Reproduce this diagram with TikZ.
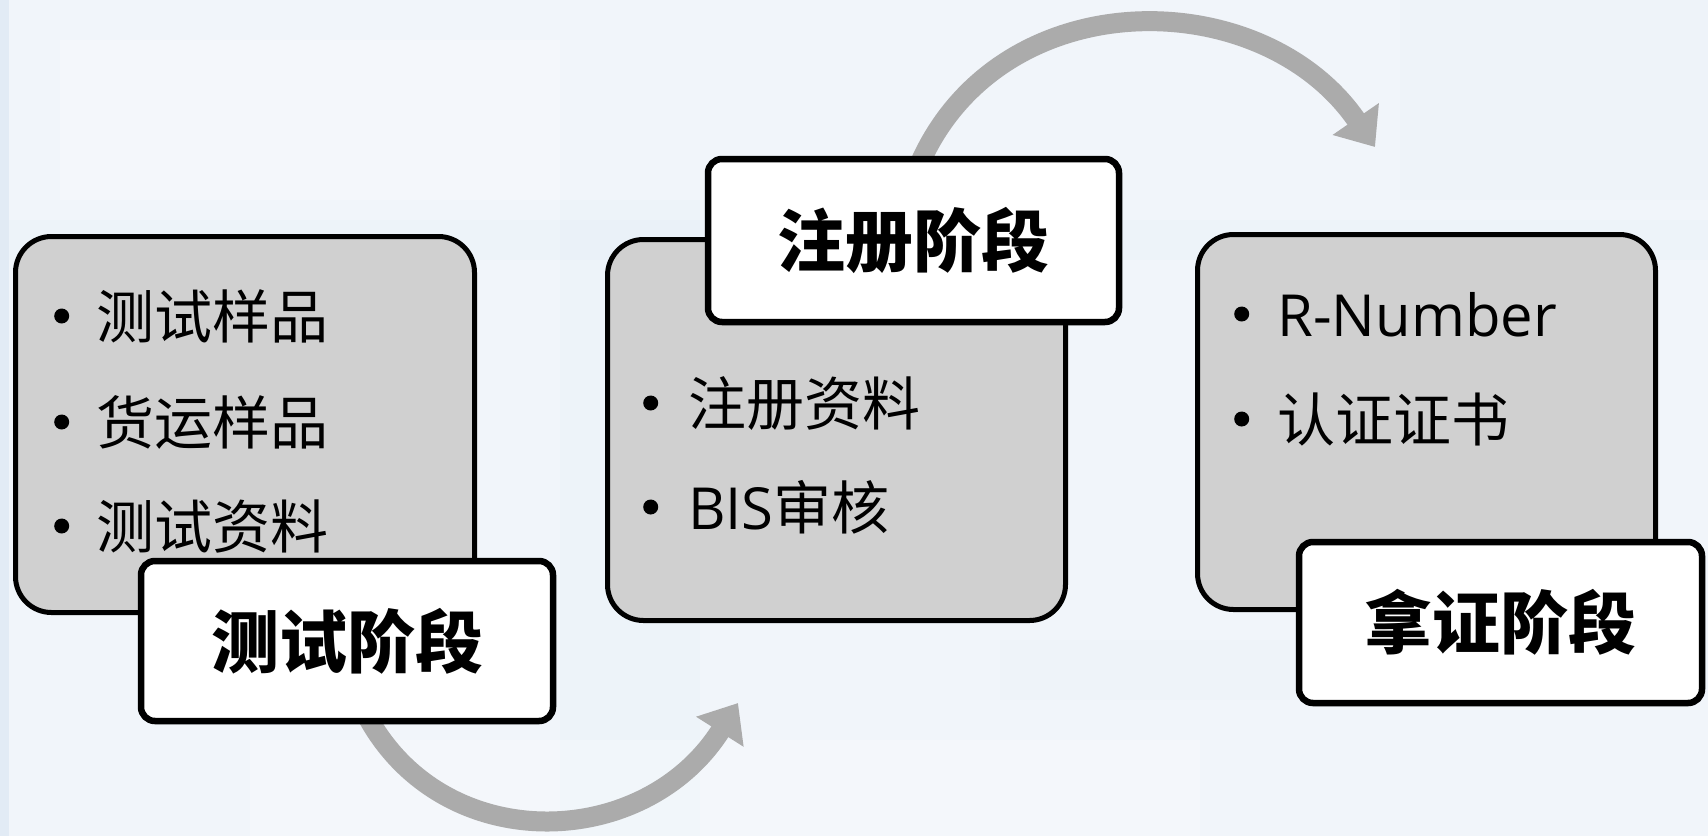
\documentclass[tikz,border=0pt]{standalone}
\usepackage{fontspec}
\setmainfont{Open Sans}
\newfontfamily\cjk{Noto Sans CJK SC}
\newfontfamily\cjkb{Noto Sans CJK SC Black}
\usetikzlibrary{arrows.meta,shadows}
\pgfdeclarelayer{back}
\pgfdeclarelayer{arr}
\pgfsetlayers{back,arr,main}
\definecolor{bgc}{HTML}{F1F5FA}
\definecolor{bgb}{HTML}{DCE8F4}
\definecolor{boxc}{HTML}{D0D0D0}
\definecolor{arrc}{HTML}{ABABAB}
\tikzset{
  graybox/.style={draw=black, line width=5pt, fill=boxc, rounded corners=36pt, inner sep=0pt},
  labelbox/.style={draw=black, line width=6.5pt, fill=white, rounded corners=14pt, inner sep=0pt,
    font=\cjkb\fontsize{68}{80}\selectfont,
    drop shadow={opacity=0.3, shadow xshift=2pt, shadow yshift=-3pt}},
  item/.style={anchor=base west, inner sep=0pt, font=\fontsize{58}{70}\selectfont, text=black},
  flow/.style={draw=arrc, line width=20pt, -{Triangle[width=54pt,length=34pt]}},
}
\newcommand{\bul}[1]{\makebox[#1][l]{\tikz[baseline=-22pt]\fill (7pt,0pt) circle[radius=7.5pt];}}
\begin{document}
\begin{tikzpicture}[x=1pt,y=-1pt]
\useasboundingbox (0,0) rectangle (1708,836);
% background
\begin{pgfonlayer}{back}
\fill[bgc] (0,0) rectangle (1708,836);
\fill[bgb, opacity=0.7] (0,0) rectangle (9,836);
\fill[white, opacity=0.25] (60,40) rectangle (560,200);
\fill[bgb, opacity=0.15] (0,220) rectangle (1708,260);
\fill[bgb, opacity=0.15] (560,200) rectangle (700,836);
\fill[bgb, opacity=0.12] (1000,640) rectangle (1708,700);
\fill[white, opacity=0.25] (250,740) rectangle (1200,836);
\fill[bgb, opacity=0.12] (1400,0) rectangle (1708,200);
\end{pgfonlayer}

% gray content boxes
\node[graybox, minimum width=459pt, minimum height=376pt] (b1) at (245,424.5) {};
\node[graybox, minimum width=458pt, minimum height=381pt] (b2) at (836.5,430) {};
\node[graybox, minimum width=458pt, minimum height=375pt] (b3) at (1426.5,422) {};

% items
\node[item] (i11) at (54,338) {\bul{42pt}{\cjk 测试样品}};
\node[item] (i12) at (54,444) {\bul{42pt}{\cjk 货运样品}};
\node[item] (i13) at (54,548) {\bul{42pt}{\cjk 测试资料}};
\node[item] (i21) at (643,425) {\bul{45pt}{\cjk 注册资料}};
\node[item] (i22) at (643,529) {\bul{45pt}BIS{\cjk 审核}};
\node[item] (i31) at (1234,336) {\bul{43pt}R-Number};
\node[item] (i32) at (1234,441) {\bul{43pt}{\cjk 认证证书}};

% labels
\node[labelbox, minimum width=412pt, minimum height=160pt] (l1) at (347,641) {测试阶段};
\node[labelbox, minimum width=411pt, minimum height=163pt] (l2) at (913.5,240.5) {注册阶段};
\node[labelbox, minimum width=403pt, minimum height=161pt] (l3) at (1500.5,622.5) {拿证阶段};

% arrows
\coordinate (a1s) at (355,690);
\coordinate (a1e) at (738,703);
\coordinate (a2s) at (915,175);
\coordinate (a2e) at (1375,147);
\begin{pgfonlayer}{arr}
\draw[flow] (a1s) .. controls (420,858) and (640,858) .. (a1e);
\draw[flow] (a2s) .. controls (990,-20) and (1260,-20) .. (a2e);
\end{pgfonlayer}
\end{tikzpicture}
\end{document}
